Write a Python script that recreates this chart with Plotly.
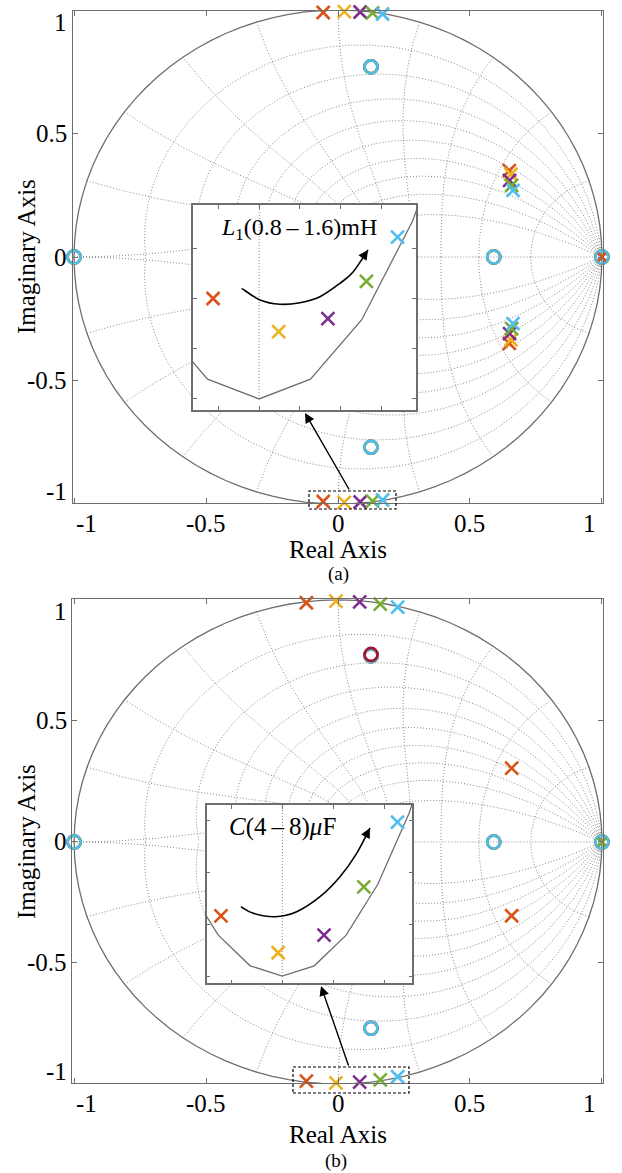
import numpy as np
import plotly.graph_objects as go

W, H = 622, 1173
def px(x): return x / W
def py(y): return 1 - y / H

# ---------------- data ----------------
colors = ['#D95319', '#EDB120', '#7E2F8E', '#77AC30', '#4DBEEE']
L1_values = ['0.8', '1.0', '1.2', '1.4', '1.6']      # mH  (chart a)
C_values = ['4', '5', '6', '7', '8']                 # uF  (chart b)

# chart (a): poles near the unit circle (upper half; conjugates mirrored)
a_pole_hf_re = [-0.056, 0.024, 0.084, 0.131, 0.169]
a_pole_hf_im = [0.9900, 0.9933, 0.9920, 0.9883, 0.9839]
a_pole_mf_re = [0.649, 0.655, 0.650, 0.658, 0.663]
a_pole_mf_im = [0.350, 0.335, 0.310, 0.290, 0.270]
# chart (b)
b_pole_hf_re = [-0.120, -0.008, 0.082, 0.160, 0.226]
b_pole_hf_im = [0.9884, 0.9955, 0.9921, 0.9828, 0.9703]
b_pole_mf_re = [0.658]
b_pole_mf_im = [0.305]
# common zeros
zero_re = [-1.0, 0.59, 1.0, 0.125, 0.125]
zero_im = [0.0, 0.0, 0.0, 0.77, -0.77]
pole_one_re = [1.0]
pole_one_im = [0.0]
b_marked_zero_re = [0.125]
b_marked_zero_im = [0.775]

tick_vals = [-1, -0.5, 0, 0.5, 1]
tick_text = ['-1', '-0.5', '0', '0.5', '1']

zeta_levels = [0.1, 0.2, 0.3, 0.4, 0.5, 0.6, 0.7, 0.8, 0.9]
wn_levels = [0.1, 0.2, 0.3, 0.4, 0.5, 0.6, 0.7, 0.8, 0.9, 1.0]   # x pi/T

FONT = 'Liberation Serif'
GRID_COLOR = '#8a8a8a'
AX_COLOR = '#6e6e6e'

fig = go.Figure()

def grid_traces(xa, ya):
    xs, ys = [], []
    for z in zeta_levels:
        th = np.linspace(0, np.pi, 300)
        r = np.exp(-z / np.sqrt(1 - z * z) * th)
        for s in (1, -1):
            xs += list(r * np.cos(th)) + [None]
            ys += list(s * r * np.sin(th)) + [None]
    for w in wn_levels:
        zz = np.linspace(0, 1, 200)
        wn = w * np.pi
        r = np.exp(-zz * wn)
        th = wn * np.sqrt(1 - zz * zz)
        for s in (1, -1):
            xs += list(r * np.cos(th)) + [None]
            ys += list(s * r * np.sin(th)) + [None]
    xs += [np.exp(-np.pi), 1.0, None]
    ys += [0, 0, None]
    fig.add_trace(go.Scatter(x=xs, y=ys, mode='lines', xaxis=xa, yaxis=ya,
                             line=dict(color=GRID_COLOR, width=1, dash='1px,2px'),
                             hoverinfo='skip', showlegend=False))
    th = np.linspace(0, 2 * np.pi, 101)
    fig.add_trace(go.Scatter(x=np.cos(th), y=np.sin(th), mode='lines', xaxis=xa, yaxis=ya,
                             line=dict(color=AX_COLOR, width=1.3),
                             hoverinfo='skip', showlegend=False))

def xmark(xa, ya, xs, ys, color, size=13, name=None):
    fig.add_trace(go.Scatter(x=xs, y=ys, mode='markers', xaxis=xa, yaxis=ya, name=name,
                             cliponaxis=False, showlegend=False,
                             marker=dict(symbol='x-thin', size=size, color=color,
                                         line=dict(color=color, width=2.6))))

def omark(xa, ya, xs, ys, color, name=None):
    fig.add_trace(go.Scatter(x=xs, y=ys, mode='markers', xaxis=xa, yaxis=ya, name=name,
                             cliponaxis=False, showlegend=False,
                             marker=dict(symbol='circle-open', size=13, color=color,
                                         line=dict(color=color, width=2.6))))

def pz_traces(xa, ya, hf_re, hf_im, mf_re, mf_im, names, one_color, marked=None):
    for i in range(len(hf_re)):
        xr = [hf_re[i], hf_re[i]]
        xi = [hf_im[i], -hf_im[i]]
        if i < len(mf_re):
            xr += [mf_re[i], mf_re[i]]
            xi += [mf_im[i], -mf_im[i]]
        xmark(xa, ya, xr, xi, colors[i], name=names[i])
    for i in range(len(hf_re)):
        omark(xa, ya, zero_re, zero_im, colors[i], name=names[i])
    if marked is not None:
        omark(xa, ya, marked[0], marked[1], '#A2142F')
    xmark(xa, ya, pole_one_re, pole_one_im, one_color, size=8)

names_a = ['L1=' + v + 'mH' for v in L1_values]
names_b = ['C=' + v + 'uF' for v in C_values]

for xa, ya in (('x', 'y'), ('x2', 'y2')):
    grid_traces(xa, ya)
    pz_traces(xa, ya, a_pole_hf_re, a_pole_hf_im, a_pole_mf_re, a_pole_mf_im, names_a, colors[0])
for xa, ya in (('x3', 'y3'), ('x4', 'y4')):
    grid_traces(xa, ya)
    pz_traces(xa, ya, b_pole_hf_re, b_pole_hf_im, b_pole_mf_re, b_pole_mf_im, names_b, colors[3],
              marked=(b_marked_zero_re, b_marked_zero_im))

def main_axis(dom, rng, anchor):
    return dict(domain=dom, range=rng, anchor=anchor, showgrid=False, zeroline=False,
                showline=True, linecolor=AX_COLOR, linewidth=1.3, mirror='ticks',
                ticks='inside', ticklen=5, tickcolor=AX_COLOR, tickwidth=1.2,
                tickvals=tick_vals, showticklabels=False)

def inset_axis(dom, rng, anchor, tv):
    return dict(domain=dom, range=rng, anchor=anchor, showgrid=False, zeroline=False,
                showline=True, linecolor=AX_COLOR, linewidth=1.5, mirror='ticks',
                ticks='inside', ticklen=4, tickcolor=AX_COLOR, tickwidth=1.2,
                tickvals=tv, showticklabels=False)

panels = [
    dict(xpx=(73, 603), xr=(-1.004, 1.004), ypx=(11, 503), yr=(-0.996, 0.996)),
    dict(xpx=(72, 603), xr=(-1.008, 1.004), ypx=(599, 1083), yr=(-0.996, 1.004)),
]

fig.update_layout(
    width=W, height=H, margin=dict(l=0, r=0, t=0, b=0),
    paper_bgcolor='white', plot_bgcolor='white', showlegend=False,
    xaxis=main_axis([px(73), px(603)], list(panels[0]['xr']), 'y'),
    yaxis=main_axis([py(503), py(11)], list(panels[0]['yr']), 'x'),
    xaxis2=inset_axis([px(193), px(416)], [-0.0805, 0.1915], 'y2', [-0.05, 0, 0.05, 0.1, 0.15]),
    yaxis2=inset_axis([py(410), py(205)], [-1.0011, -0.9807], 'x2', [-1, -0.995, -0.99, -0.985]),
    xaxis3=main_axis([px(72), px(603)], list(panels[1]['xr']), 'y3'),
    yaxis3=main_axis([py(1083), py(599)], list(panels[1]['yr']), 'x3'),
    xaxis4=inset_axis([px(206.7), px(412.3)], [-0.148, 0.255], 'y4', [-0.1, 0, 0.1, 0.2]),
    yaxis4=inset_axis([py(983.3), py(805)], [-1.0014, -0.967], 'x4', [-1, -0.99, -0.98, -0.97]),
)

annotations = []
shapes = []

def text_at(x, y, txt, size, angle=0, xanchor='center'):
    annotations.append(dict(x=px(x), y=py(y), xref='paper', yref='paper', text=txt,
                            showarrow=False, textangle=angle, xanchor=xanchor, yanchor='middle',
                            font=dict(family=FONT, size=size, color='black')))

EDGE_IN = 12
for p in panels:
    (x0p, x1p), (xa0, xa1) = p['xpx'], p['xr']
    (y0p, y1p), (ya0, ya1) = p['ypx'], p['yr']
    for v, t in zip(tick_vals, tick_text):
        xx = x0p + (v - xa0) / (xa1 - xa0) * (x1p - x0p)
        if abs(v) == 1:
            xx -= np.sign(v) * EDGE_IN
        text_at(xx, y1p + 20, t, 25)
        yy = y1p - (v - ya0) / (ya1 - ya0) * (y1p - y0p)
        if abs(v) == 1:
            yy += np.sign(v) * EDGE_IN
        text_at(69, yy, t, 25, xanchor='right')

text_at(338, 550, 'Real Axis', 25)
text_at(26, 257, 'Imaginary Axis', 25, -90)
text_at(338, 574, '(a)', 19)
text_at(338, 1134, 'Real Axis', 25)
text_at(26, 842, 'Imaginary Axis', 25, -90)
text_at(336, 1161, '(b)', 19)
text_at(299, 229, '<i>L</i><sub>1</sub>(0.8\u2009–\u20091.6)mH', 24)
text_at(282, 827, '<i>C</i>(4\u2009–\u20098)<i>μ</i>F', 25)

def arrow(tail, head, length=None):
    dx, dy = tail[0] - head[0], tail[1] - head[1]
    if length is not None:
        n = np.hypot(dx, dy)
        dx, dy = dx / n * length, dy / n * length
    annotations.append(dict(x=px(head[0]), y=py(head[1]), xref='paper', yref='paper',
                            ax=dx, ay=dy, text='', showarrow=True, arrowhead=2,
                            arrowsize=1.4, arrowwidth=1.4, arrowcolor='black', standoff=0))

def curve(pts):
    p = [pts[0]] + pts + [pts[-1]]
    d = 'M %f,%f' % (px(pts[0][0]), py(pts[0][1]))
    for i in range(1, len(p) - 2):
        p0, p1, p2, p3 = np.array(p[i - 1]), np.array(p[i]), np.array(p[i + 1]), np.array(p[i + 2])
        c1 = p1 + (p2 - p0) / 6
        c2 = p2 - (p3 - p1) / 6
        d += ' C %f,%f %f,%f %f,%f' % (px(c1[0]), py(c1[1]), px(c2[0]), py(c2[1]),
                                       px(p2[0]), py(p2[1]))
    shapes.append(dict(type='path', path=d, xref='paper', yref='paper',
                       line=dict(color='black', width=1.6)))
    arrow(pts[-2], pts[-1], length=12)

curve([(241.7, 288.3), (260, 300), (280, 304.3), (300, 302.7), (320, 296.7),
       (340, 283.3), (353.3, 271.7), (368, 250)])
curve([(241, 906.7), (253.3, 913.3), (275, 916.7), (296.7, 911.7), (320, 896.7),
       (340, 876.7), (356.7, 853.3), (370, 828)])

arrow((350, 491), (305, 413))
arrow((349, 1067), (321, 986))

for (x0, x1, y0, y1) in ((309, 396, 491, 509), (293, 409, 1067, 1093)):
    shapes.append(dict(type='rect', xref='paper', yref='paper', x0=px(x0), x1=px(x1),
                       y0=py(y1), y1=py(y0), line=dict(color='black', width=1.2, dash='3px,2px')))

fig.update_layout(annotations=annotations, shapes=shapes)
fig.write_html('out.html')
